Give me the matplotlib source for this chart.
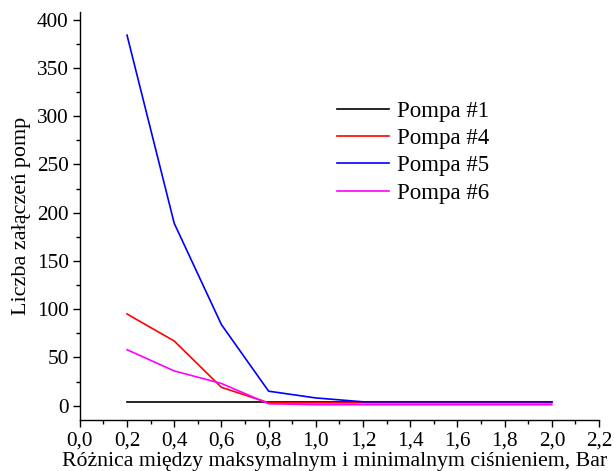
import matplotlib
matplotlib.use("Agg")
import matplotlib.pyplot as plt
from matplotlib.ticker import MultipleLocator, FuncFormatter

plt.rcParams["font.family"] = ["Liberation Serif", "DejaVu Serif"]

# pressure difference, bar
roznica = [0.2, 0.4, 0.6, 0.8, 1.0, 1.2, 1.4, 1.6, 1.8, 2.0]

pompa_1 = [4, 4, 4, 4, 4, 4, 4, 4, 4, 4]
pompa_4 = [95, 67, 19, 3, 3, 3, 3, 3, 3, 3]
pompa_5 = [384, 189, 84, 15, 8, 4, 4, 4, 4, 4]
pompa_6 = [58, 36, 23, 2, 1, 1, 1, 1, 1, 1]

serie = [
    ("Pompa #1", pompa_1, "black"),
    ("Pompa #4", pompa_4, "red"),
    ("Pompa #5", pompa_5, "blue"),
    ("Pompa #6", pompa_6, "magenta"),
]

fig = plt.figure(figsize=(6.14, 4.71), dpi=100)
ax = fig.add_axes([0.130, 0.108, 0.8456, 0.8665])

for nazwa, wartosci, kolor in serie:
    ax.plot(roznica, wartosci, color=kolor, lw=1.2, label=nazwa)

ax.set_xlim(0.0, 2.2)
ax.set_ylim(-15, 408)
ax.xaxis.set_major_locator(MultipleLocator(0.2))
ax.xaxis.set_minor_locator(MultipleLocator(0.1))
ax.yaxis.set_major_locator(MultipleLocator(50))
ax.yaxis.set_minor_locator(MultipleLocator(25))
ax.xaxis.set_major_formatter(FuncFormatter(lambda v, p: f"{v:.1f}".replace(".", ",")))

for s in ("top", "right"):
    ax.spines[s].set_visible(False)
for s in ("left", "bottom"):
    ax.spines[s].set_linewidth(1.0)

ax.tick_params(which="major", direction="out", length=5, width=1.0, labelsize=15.3, pad=3)
ax.tick_params(which="minor", direction="out", length=3, width=1.0)

ax.set_xlabel("Różnica między maksymalnym i minimalnym ciśnieniem, Bar", fontsize=15.7)
ax.xaxis.set_label_coords(0.490, -0.079)
ax.set_ylabel("Liczba załączeń pomp", fontsize=15.9, labelpad=4)

ax.legend(loc="upper left", bbox_to_anchor=(0.455, 0.833), frameon=False, fontsize=16.5,
          handlelength=2.27, labelspacing=0.27, handletextpad=0.35)

fig.savefig("out.png", dpi=100)
